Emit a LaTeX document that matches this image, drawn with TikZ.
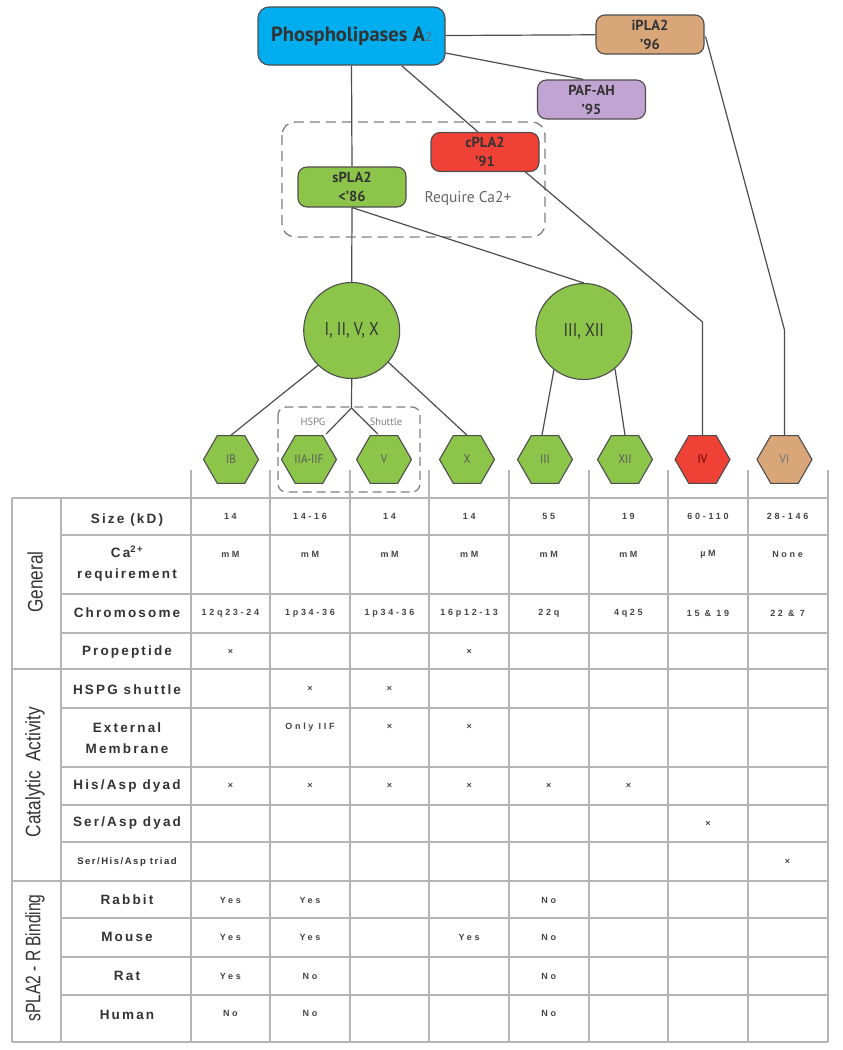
\documentclass[tikz,border=0pt]{standalone}
\usepackage{fontspec}
\setmainfont{PT Sans}
\newfontfamily\tabfont[LetterSpace=16]{Liberation Sans}
\newfontfamily\valfont[LetterSpace=30]{Liberation Sans}
\newfontfamily\grpfont{Liberation Sans}
\usetikzlibrary{shapes.geometric,calc}
\definecolor{pblue}{HTML}{00AEEF}
\definecolor{ptan}{HTML}{D9A679}
\definecolor{plav}{HTML}{C2A4D3}
\definecolor{pred}{HTML}{EF4136}
\definecolor{pgreen}{HTML}{8DC54B}
\definecolor{edgec}{HTML}{4D4D4D}
\definecolor{gridc}{HTML}{B5B5B5}
\definecolor{txtc}{HTML}{333333}
\definecolor{valc}{HTML}{454545}
\begin{document}
\begin{tikzpicture}[x=1pt,y=-1pt,
  box/.style={draw=edgec, line width=1.1pt, rounded corners=9pt, minimum width=108pt, minimum height=39pt,
    inner sep=0pt, align=center, font=\fontsize{14.5}{19}\selectfont\bfseries, text=txtc},
  circ/.style={circle, draw=edgec, line width=1.1pt, fill=pgreen, minimum size=96pt, inner sep=0pt,
    font=\fontsize{18.5}{18}\selectfont, text=txtc},
  hexa/.style={regular polygon, regular polygon sides=6, minimum size=55pt, draw=edgec, line width=1.1pt,
    fill=pgreen, inner sep=0pt, font=\fontsize{12.5}{12}\selectfont, text=black!65},
  conn/.style={draw=edgec, line width=1.2pt},
  dbox/.style={draw=black!50, line width=1.3pt, dash pattern=on 10pt off 6pt, rounded corners=13pt},
  gridl/.style={draw=gridc, line width=1.2pt},
  rowl/.style={inner sep=0pt, align=center, text=txtc, font=\tabfont\bfseries\fontsize{13.5}{21}\selectfont},
  rowls/.style={rowl, font=\tabfont\bfseries\fontsize{9.5}{10}\selectfont},
  val/.style={inner sep=0pt, text=valc, font=\valfont\bfseries\fontsize{9}{9}\selectfont},
  grp/.style={inner sep=0pt, rotate=90, text=txtc, font=\grpfont\fontsize{21}{21}\selectfont}
]
\fill[white] (0,0) rectangle (843,1050);
\useasboundingbox (0,0) rectangle (843,1050);

% ---- top nodes
\node[box, fill=pblue, minimum width=187pt, minimum height=58pt, rounded corners=11pt,
  font=\fontsize{20.5}{20}\selectfont\bfseries] (P) at (351.5,36)
  {Phospholipases A{\fontsize{12.5}{12}\selectfont\mdseries\color{black!60}2}};
\node[box, fill=ptan] (iP) at (650,34.5) {iPLA2\\’96};
\node[box, fill=plav] (PAF) at (591.5,99.5) {PAF-AH\\’95};
\node[box, fill=pred] (cP) at (485,152) {cPLA2\\’91};
\node[box, fill=pgreen, minimum height=40pt] (sP) at (352,187) {sPLA2\\<’86};
\draw[dbox] (282,122) rectangle (545,237);
\node[text=black!60, font=\fontsize{15.5}{16}\selectfont, inner sep=0pt] (req) at (468,199) {Require Ca2+};

% ---- circles
\node[circ] (C1) at (351.7,330.5) {\scalebox{0.85}[1]{I, II, V, X}};
\node[circ] (C2) at (583.8,331.5) {\scalebox{0.85}[1]{III, XII}};

% ---- hexagons
\node[hexa] (IB) at (231,459.5) {\scalebox{0.9}[1]{IB}};
\node[hexa] (IIA) at (309,459.5) {\scalebox{0.9}[1]{IIA-IIF}};
\node[hexa] (V) at (384,459.5) {\scalebox{0.9}[1]{V}};
\node[hexa] (X) at (467,459.5) {\scalebox{0.9}[1]{X}};
\node[hexa] (III) at (545,459.5) {\scalebox{0.9}[1]{III}};
\node[hexa] (XII) at (625,459.5) {\scalebox{0.9}[1]{XII}};
\node[hexa, fill=pred, text=red!40!black] (IV) at (702.5,459.5) {\scalebox{0.9}[1]{IV}};
\node[hexa, fill=ptan, text=black!55] (VI) at (784.5,459.5) {\scalebox{0.9}[1]{VI}};

\draw[dbox, dash pattern=on 9pt off 5pt, rounded corners=8pt] (278,407) rectangle (420,492);
\node[text=black!50, font=\fontsize{10.5}{10}\selectfont, inner sep=0pt] (hspg) at (313,422) {HSPG};
\node[text=black!50, font=\fontsize{10.5}{10}\selectfont, inner sep=0pt] (shut) at (386,422) {Shuttle};

% ---- connectors
\coordinate (k1) at (702.5,322);
\coordinate (k2) at (784.5,330);
\coordinate (J) at (351.5,408);
\draw[conn] (P) -- (iP);
\draw[conn] ($(P.east)+(0,17)$) -- ($(PAF.north)+(-8,0)$);
\draw[conn] (P.south) -- (sP.north);
\draw[conn] (sP.south) -- (C1.north);
\draw[conn] ($(P.south)+(50,0)$) -- ($(cP.north)+(-7,0)$);
\draw[conn] (sP.south) -- (C2.north);
\draw[conn] ($(cP.south east)+(-14,0)$) -- (k1) -- (IV.north);
\draw[conn] ($(iP.east)+(1,2)$) -- (k2) -- (VI.north);
\draw[conn] (C1.226) -- (IB.north);
\draw[conn] (C1.319) -- (X.north);
\draw[conn] (C1.south) -- (J);
\draw[conn] (J) -- ($(IIA.north)+(17,-1)$);
\draw[conn] (J) -- ($(V.north)+(-6,-1)$);
\draw[conn] (C2.232) -- ($(III.north)+(-3,0)$);
\draw[conn] (C2.310) -- (XII.north);

% ---- table grid
\foreach \yy in {498,669,881,1042} \draw[gridl] (12,\yy) -- (828,\yy);
\foreach \yy in {535,594,633,708,767,805,842,918,957,995} \draw[gridl] (61,\yy) -- (828,\yy);
\foreach \xx in {12,61} \draw[gridl] (\xx,498) -- (\xx,1042);
\foreach \xx in {191,270,350,429,509,589,668,748,828} \draw[gridl] (\xx,470) -- (\xx,1042);

% ---- group labels
\node[grp] (gGen) at (35,582) {\scalebox{0.82}[1]{General}};
\node[grp] (gCat) at (35,772) {\scalebox{0.82}[1]{Catalytic\ \ Activity}};
\node[grp] (gBind) at (35,958) {\scalebox{0.74}[1]{sPLA2 - R Binding}};

% ---- row labels
\node[rowl] (lSize) at (127,520) {Size (kD)};
\node[rowl] (lCa) at (127,563.5) {Ca\textsuperscript{2+}\\requirement};
\node[rowl] (lChr) at (127,613) {Chromosome};
\node[rowl] (lPro) at (127,652) {Propeptide};
\node[rowl] (lHS) at (127,690) {HSPG shuttle};
\node[rowl] (lExt) at (127,738) {External\\Membrane};
\node[rowl] (lHis) at (127,786) {His/Asp dyad};
\node[rowl] (lSer) at (127,823) {Ser/Asp dyad};
\node[rowls] (lTri) at (127,862) {Ser/His/Asp triad};
\node[rowl] (lRab) at (127,900) {Rabbit};
\node[rowl] (lMou) at (127,937) {Mouse};
\node[rowl] (lRat) at (127,976) {Rat};
\node[rowl] (lHum) at (127,1015) {Human};

% ---- values
\foreach \t [count=\i] in {14,14-16,14,14,55,19,60-110,28-146}
  \node[val] (sz\i) at ({150.8+79.6*\i},516.5) {\t};
\foreach \t [count=\i] in {mM,mM,mM,mM,mM,mM,µM,None}
  \node[val] (ca\i) at ({150.8+79.6*\i},554) {\t};
\foreach \t [count=\i] in {12q23-24,1p34-36,1p34-36,16p12-13,22q,4q25,15 \& 19,22 \& 7}
  \node[val] (ch\i) at ({150.8+79.6*\i},613) {\t};
\foreach \r/\yy/\c/\t in {pp/652/1/×, pp/652/4/×, hs/689/2/×, hs/689/3/×,
   ex/727/2/Only IIF, ex/727/3/×, ex/727/4/×,
   hi/786/1/×, hi/786/2/×, hi/786/3/×, hi/786/4/×, hi/786/5/×, hi/786/6/×,
   se/824/7/×, tr/862/8/×,
   ra/900/1/Yes, ra/900/2/Yes, ra/900/5/No,
   mo/937.5/1/Yes, mo/937.5/2/Yes, mo/937.5/4/Yes, mo/937.5/5/No,
   rt/976/1/Yes, rt/976/2/No, rt/976/5/No,
   hu/1013/1/No, hu/1013/2/No, hu/1013/5/No}
  \node[val] (\r\c) at ({150.8+79.6*\c},\yy) {\t};
\end{tikzpicture}
\end{document}
